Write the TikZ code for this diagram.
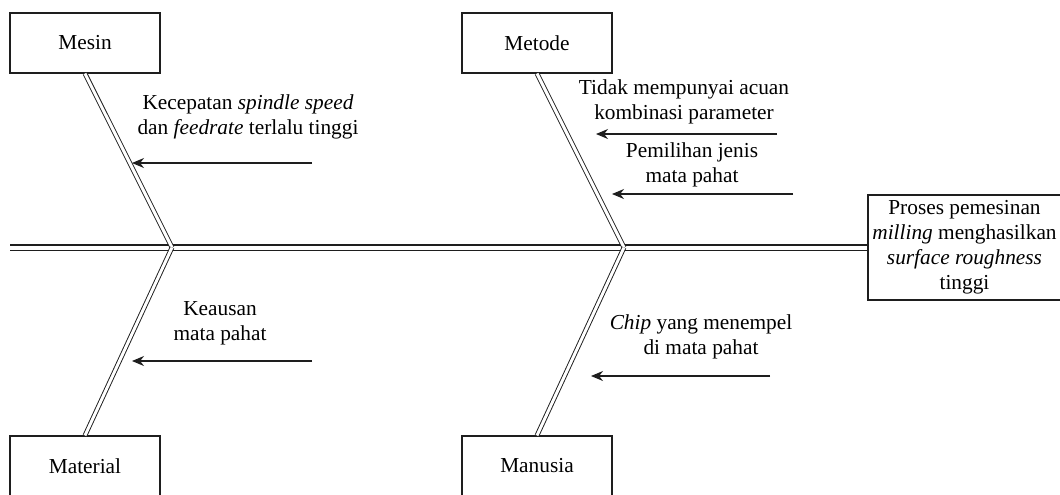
\documentclass[tikz,border=0pt]{standalone}
\usepackage{fontspec}
\setmainfont{Liberation Serif}
\usepackage{tikz}
\usetikzlibrary{arrows.meta, positioning}
\definecolor{mydark}{RGB}{30,30,30}
\tikzset{
  catbox/.style={rectangle, draw=mydark, fill=white,
    minimum width=112.5pt, minimum height=45pt,
    font=\fontsize{16}{18.75}\selectfont, line width=0.8pt},
  effbox/.style={rectangle, draw=mydark, fill=white,
    minimum width=144.75pt, minimum height=78.75pt, align=center,
    font=\fontsize{16}{18.75}\selectfont, line width=0.8pt, inner sep=0pt},
  cause/.style={align=center, inner sep=0pt,
    font=\fontsize{16}{18.75}\selectfont},
  bone/.style={double=white, draw=mydark, double distance=2.2pt, line width=0.7pt},
  spine/.style={double=white, draw=mydark, double distance=3pt, line width=0.8pt},
  arrow/.style={-{Stealth[length=9pt, width=7.5pt]}, line width=0.8pt, color=mydark}
}
\begin{document}
\begin{tikzpicture}[x=0.75pt, y=-0.75pt]
  \useasboundingbox (0,0) rectangle (1060,494);

  % category boxes and effect
  \node[catbox] (mesin) at (85,43) {Mesin};
  \node[catbox] (metode) at (537,43) {Metode};
  \node[catbox] (material) at (85,466) {Material};
  \node[catbox] (manusia) at (537,466) {Manusia};
  \node[effbox] (akibat) at (964.5,247.5)
    {Proses pemesinan\\ \textit{milling} menghasilkan\\ \textit{surface roughness}\\ tinggi};

  % spine and bones
  \coordinate (ekor) at (10,247.5);
  \coordinate (j1) at (172,247.5);
  \coordinate (j2) at (624,247.5);
  \draw[spine] (ekor) -- (akibat.west);
  \draw[bone] (mesin.south) -- (j1);
  \draw[bone] (material.north) -- (j1);
  \draw[bone] (metode.south) -- (j2);
  \draw[bone] (manusia.north) -- (j2);

  % causes
  \node[cause] (c1) at (248,117) {Kecepatan \textit{spindle speed}\\ dan \textit{feedrate} terlalu tinggi};
  \node[cause] (c2) at (684,102) {Tidak mempunyai acuan\\ kombinasi parameter};
  \node[cause] (c3) at (692,165) {Pemilihan jenis\\ mata pahat};
  \node[cause] (c4) at (220,323) {Keausan\\ mata pahat};
  \node[cause] (c5) at (701,337) {\textit{Chip} yang menempel\\ di mata pahat};

  \coordinate (a1) at (312,163); \coordinate (b1) at (132,163);
  \coordinate (a2) at (777,134); \coordinate (b2) at (596,134);
  \coordinate (a3) at (793,194); \coordinate (b3) at (612,194);
  \coordinate (a4) at (312,361); \coordinate (b4) at (132,361);
  \coordinate (a5) at (770,376); \coordinate (b5) at (591,376);
  \foreach \i in {1,...,5}
    \draw[arrow] (a\i) -- (b\i);
\end{tikzpicture}
\end{document}
